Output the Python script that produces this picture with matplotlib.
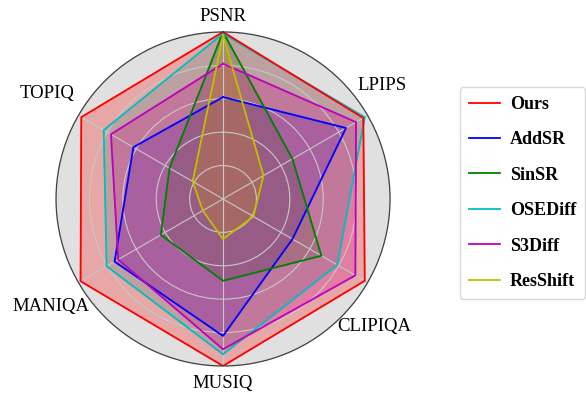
import numpy as np
import matplotlib
matplotlib.use("Agg")
import matplotlib.pyplot as plt

plt.rcParams['font.family'] = ['Liberation Serif', 'DejaVu Serif']

# metric axes, clockwise from the top
metrics = ['PSNR', 'LPIPS', 'CLIPIQA', 'MUSIQ', 'MANIQA', 'TOPIQ']

# normalised scores per method (same order as metrics)
ours = [1.00, 0.97, 0.98, 1.00, 0.985, 0.98]
addsr = [0.61, 0.85, 0.48, 0.82, 0.75, 0.62]
sinsr = [1.00, 0.48, 0.68, 0.49, 0.43, 0.37]
osediff = [0.99, 0.98, 0.79, 0.93, 0.805, 0.825]
s3diff = [0.81, 0.92, 0.915, 0.90, 0.725, 0.775]
resshift = [0.98, 0.28, 0.21, 0.24, 0.14, 0.21]

methods = ['Ours', 'AddSR', 'SinSR', 'OSEDiff', 'S3Diff', 'ResShift']
scores = [ours, addsr, sinsr, osediff, s3diff, resshift]
colors = ['r', 'b', 'g', 'c', 'm', 'y']

n = len(metrics)
angles = np.arange(n) * 2 * np.pi / n
angles_closed = np.append(angles, angles[0])

fig = plt.figure(figsize=(5.86, 3.93), dpi=100)
ax = fig.add_axes([0.0956, 0.0687, 0.570, 0.85], polar=True)
ax.set_theta_offset(np.pi / 2)
ax.set_theta_direction(-1)
ax.set_facecolor('#e0e0e0')

# baselines first, ours last so it sits on top
handles = {}
order = list(range(1, len(methods))) + [0]
for i in order:
    v = np.append(scores[i], scores[i][0])
    line, = ax.plot(angles_closed, v, color=colors[i], linewidth=1.3)
    ax.fill(angles_closed, v, color=colors[i], alpha=0.25)
    handles[methods[i]] = line

ax.set_ylim(0, 1.0)
ax.set_yticks([0.2, 0.4, 0.6, 0.8, 1.0])
ax.set_yticklabels([])
ax.set_xticks(angles)
ax.set_xticklabels([])
ax.grid(color='#c8c8c8', linewidth=0.8)
ax.spines['polar'].set_color('#404040')
ax.spines['polar'].set_linewidth(0.9)

# metric names placed just outside the rim
label_theta = [0, 54.4, 130.2, 180, 238, 300.9]
label_r = [1.092, 1.168, 1.183, 1.104, 1.214, 1.229]
for name, th, r in zip(metrics, label_theta, label_r):
    ax.text(np.deg2rad(th), r, name, fontsize=13.5, ha='center', va='center',
            clip_on=False)

leg = fig.legend([handles[m] for m in methods], methods,
                 loc='center', bbox_to_anchor=(0.8916, 0.509),
                 prop={'weight': 'bold', 'size': 13}, labelspacing=1.02,
                 handlelength=1.7, handletextpad=0.57, borderpad=0.5)
leg.get_frame().set_edgecolor('#d0d0d0')

fig.savefig('out.png', dpi=100)
